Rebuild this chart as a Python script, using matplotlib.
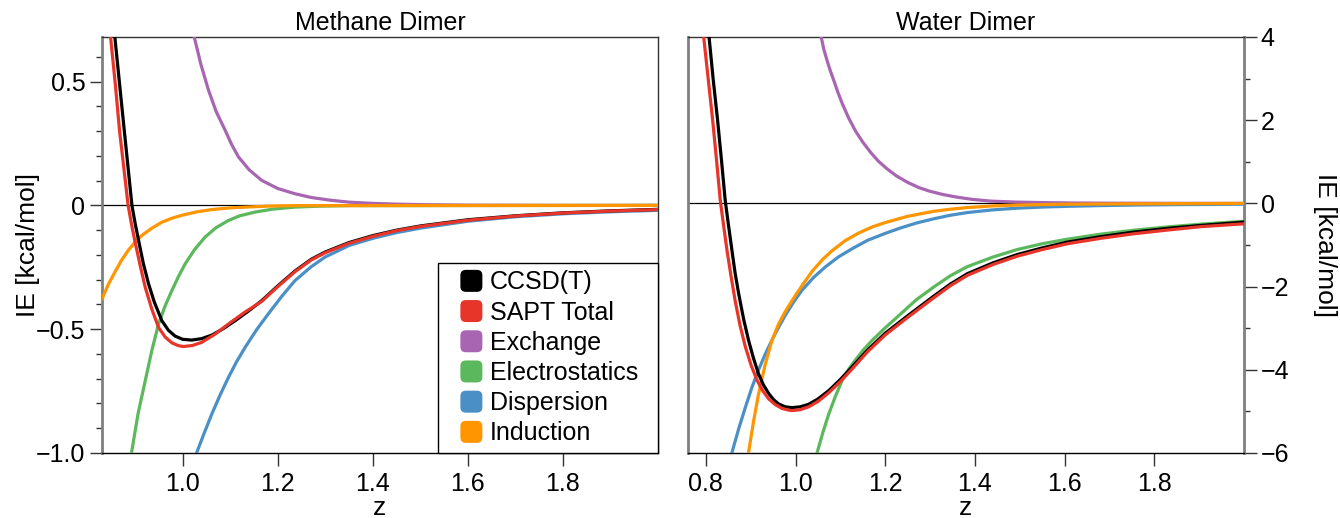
import numpy as np
import matplotlib
matplotlib.use("Agg")
import matplotlib.pyplot as plt
import matplotlib.patches as mpatches
from matplotlib.legend_handler import HandlerPatch
from matplotlib.ticker import MultipleLocator

plt.rcParams['font.family'] = ['Liberation Sans', 'DejaVu Sans']

#-----
# Methane dimer curves (z, IE in kcal/mol)
ch4_ccsd_z = [0.845, 0.857, 0.867, 0.877, 0.885, 0.893, 0.900, 0.907, 0.917, 0.928, 0.94, 0.956, 0.97, 0.984, 1.0, 1.019, 1.04, 1.061, 1.085, 1.11, 1.14, 1.166, 1.2, 1.236, 1.27, 1.3, 1.35, 1.4, 1.45, 1.5, 1.6, 1.7, 1.8, 1.9, 2.0]
ch4_ccsd = [0.95, 0.68, 0.49, 0.30, 0.15, 0.0, -0.075, -0.142, -0.235, -0.317, -0.39, -0.466, -0.505, -0.528, -0.541, -0.544, -0.538, -0.524, -0.498, -0.466, -0.424, -0.385, -0.325, -0.265, -0.218, -0.188, -0.150, -0.122, -0.100, -0.083, -0.058, -0.042, -0.030, -0.022, -0.016]
ch4_sapt_z = [0.838, 0.848, 0.858, 0.867, 0.876, 0.885, 0.892, 0.899, 0.91, 0.921, 0.935, 0.949, 0.963, 0.977, 0.99, 1.001, 1.02, 1.04, 1.068, 1.096, 1.13, 1.166, 1.2, 1.236, 1.27, 1.3, 1.35, 1.4, 1.45, 1.5, 1.6, 1.7, 1.8, 1.9, 2.0]
ch4_sapt = [0.95, 0.68, 0.49, 0.30, 0.15, 0.0, -0.075, -0.142, -0.24, -0.331, -0.42, -0.493, -0.532, -0.555, -0.566, -0.570, -0.566, -0.553, -0.520, -0.479, -0.432, -0.388, -0.328, -0.268, -0.221, -0.191, -0.153, -0.125, -0.102, -0.085, -0.060, -0.043, -0.031, -0.023, -0.017]
ch4_exch_z = [1.015, 1.024, 1.038, 1.054, 1.07, 1.089, 1.103, 1.117, 1.14, 1.166, 1.2, 1.236, 1.27, 1.31, 1.35, 1.4, 1.45, 1.5, 1.6, 1.8, 2.0]
ch4_exch = [0.85, 0.681, 0.57, 0.466, 0.38, 0.304, 0.245, 0.196, 0.143, 0.101, 0.068, 0.047, 0.032, 0.021, 0.013, 0.008, 0.005, 0.003, 0.001, 0.0, 0.0]
ch4_elst_z = [0.885, 0.892, 0.906, 0.921, 0.935, 0.949, 0.963, 0.977, 0.991, 1.005, 1.025, 1.047, 1.07, 1.096, 1.12, 1.152, 1.19, 1.236, 1.29, 1.35, 2.0]
ch4_elst = [-1.2, -1.0, -0.84, -0.708, -0.585, -0.479, -0.405, -0.344, -0.287, -0.236, -0.178, -0.128, -0.090, -0.061, -0.042, -0.027, -0.015, -0.007, -0.003, -0.001, 0.0]
ch4_disp_z = [1.02, 1.029, 1.045, 1.061, 1.078, 1.096, 1.113, 1.131, 1.155, 1.18, 1.208, 1.236, 1.27, 1.3, 1.35, 1.4, 1.45, 1.5, 1.6, 1.7, 1.8, 1.9, 2.0]
ch4_disp = [-1.05, -1.0, -0.92, -0.843, -0.768, -0.695, -0.632, -0.574, -0.503, -0.438, -0.368, -0.304, -0.248, -0.208, -0.162, -0.133, -0.110, -0.092, -0.064, -0.046, -0.034, -0.026, -0.020]
ch4_ind_z = [0.83, 0.843, 0.857, 0.871, 0.885, 0.9, 0.914, 0.935, 0.956, 0.977, 0.998, 1.03, 1.061, 1.1, 1.131, 1.18, 1.236, 2.0]
ch4_ind = [-0.378, -0.32, -0.27, -0.222, -0.182, -0.148, -0.121, -0.092, -0.068, -0.052, -0.040, -0.026, -0.017, -0.010, -0.007, -0.003, -0.001, 0.0]

# Water dimer curves
h2o_ccsd_z = [0.80, 0.807, 0.816, 0.826, 0.835, 0.843, 0.85, 0.858, 0.865, 0.873, 0.884, 0.895, 0.906, 0.917, 0.928, 0.94, 0.951, 0.962, 0.977, 0.992, 1.01, 1.029, 1.05, 1.074, 1.1, 1.126, 1.16, 1.2, 1.25, 1.308, 1.345, 1.383, 1.44, 1.494, 1.55, 1.606, 1.68, 1.754, 1.83, 1.903, 2.0]
h2o_ccsd = [4.8, 4.0, 3.0, 2.0, 1.0, 0.07, -0.5, -1.13, -1.67, -2.17, -2.78, -3.29, -3.72, -4.09, -4.36, -4.57, -4.72, -4.82, -4.89, -4.91, -4.89, -4.83, -4.70, -4.50, -4.23, -3.93, -3.53, -3.12, -2.70, -2.23, -1.94, -1.69, -1.43, -1.23, -1.07, -0.93, -0.80, -0.69, -0.60, -0.53, -0.45]
h2o_sapt_z = [0.79, 0.795, 0.805, 0.815, 0.824, 0.832, 0.839, 0.847, 0.856, 0.865, 0.876, 0.888, 0.901, 0.914, 0.927, 0.94, 0.955, 0.97, 0.985, 0.992, 1.01, 1.029, 1.05, 1.074, 1.1, 1.126, 1.16, 1.2, 1.25, 1.308, 1.345, 1.383, 1.44, 1.494, 1.55, 1.606, 1.68, 1.754, 1.83, 1.903, 2.0]
h2o_sapt = [4.9, 4.0, 3.0, 2.0, 1.0, 0.07, -0.5, -1.13, -1.75, -2.33, -2.93, -3.45, -3.90, -4.25, -4.51, -4.70, -4.84, -4.93, -4.97, -4.98, -4.96, -4.89, -4.76, -4.55, -4.28, -3.98, -3.57, -3.16, -2.74, -2.27, -1.98, -1.73, -1.47, -1.27, -1.11, -0.97, -0.84, -0.73, -0.64, -0.56, -0.49]
h2o_exch_z = [1.05, 1.057, 1.063, 1.07, 1.077, 1.085, 1.094, 1.104, 1.118, 1.133, 1.15, 1.167, 1.185, 1.204, 1.225, 1.249, 1.275, 1.3, 1.33, 1.36, 1.395, 1.435, 1.49, 1.546, 1.62, 1.7, 1.85, 2.0]
h2o_exch = [4.6, 4.0, 3.7, 3.44, 3.2, 2.96, 2.68, 2.40, 2.06, 1.75, 1.47, 1.23, 1.01, 0.83, 0.66, 0.51, 0.38, 0.29, 0.21, 0.15, 0.095, 0.055, 0.032, 0.02, 0.01, 0.005, 0.002, 0.0]
h2o_elst_z = [1.04, 1.048, 1.061, 1.074, 1.089, 1.104, 1.118, 1.133, 1.152, 1.171, 1.2, 1.237, 1.27, 1.308, 1.345, 1.383, 1.44, 1.494, 1.55, 1.606, 1.68, 1.754, 1.83, 1.903, 2.0]
h2o_elst = [-6.5, -5.99, -5.5, -5.06, -4.63, -4.25, -3.99, -3.77, -3.51, -3.29, -2.99, -2.63, -2.31, -2.01, -1.74, -1.52, -1.29, -1.11, -0.97, -0.86, -0.74, -0.645, -0.565, -0.50, -0.43]
h2o_disp_z = [0.85, 0.858, 0.873, 0.888, 0.902, 0.917, 0.932, 0.947, 0.962, 0.977, 0.995, 1.014, 1.04, 1.066, 1.095, 1.126, 1.16, 1.2, 1.234, 1.27, 1.308, 1.345, 1.383, 1.44, 1.494, 1.55, 1.606, 1.68, 1.754, 1.85, 2.0]
h2o_disp = [-6.3, -5.99, -5.42, -4.9, -4.44, -4.01, -3.63, -3.29, -2.98, -2.69, -2.38, -2.09, -1.78, -1.53, -1.29, -1.09, -0.89, -0.72, -0.59, -0.47, -0.37, -0.285, -0.22, -0.155, -0.115, -0.088, -0.07, -0.053, -0.04, -0.03, -0.02]
h2o_ind_z = [0.89, 0.895, 0.906, 0.917, 0.932, 0.947, 0.962, 0.977, 0.999, 1.018, 1.037, 1.06, 1.081, 1.11, 1.141, 1.17, 1.2, 1.25, 1.308, 1.345, 1.383, 1.44, 1.494, 1.6, 1.75, 2.0]
h2o_ind = [-6.4, -5.99, -5.25, -4.6, -3.88, -3.3, -2.9, -2.6, -2.22, -1.92, -1.63, -1.35, -1.14, -0.90, -0.71, -0.57, -0.46, -0.31, -0.19, -0.14, -0.10, -0.06, -0.04, -0.02, -0.01, 0.0]

labels = ['CCSD(T)', 'SAPT Total', 'Exchange', 'Electrostatics', 'Dispersion', 'Induction']
colors = ['#000000', '#e8352a', '#a866b2', '#5cb85c', '#4a90c6', '#ff9500']
#-----

FS = 18

class RoundSquare(HandlerPatch):
  def create_artists(self, legend, orig_handle, xdescent, ydescent, width, height, fontsize, trans):
    s = 0.88*fontsize
    x0 = -xdescent + width - s
    y0 = -ydescent + (height - s)/2.
    p = mpatches.FancyBboxPatch((x0, y0), s, s, boxstyle='round,pad=0,rounding_size=%f' % (0.25*s),
                                facecolor=orig_handle.get_facecolor(), edgecolor='none', transform=trans)
    return [p]

def style_axes(ax, side):
  gray = '#808080'
  for sp in ax.spines.values():
    sp.set_linewidth(1.0)
    sp.set_color('#333333')
  ax.spines['bottom'].set_color('black')
  ax.spines[side].set_color(gray)
  ax.spines[side].set_linewidth(2.0)
  if side == 'right':
    ax.spines['left'].set_color(gray)
    ax.spines['left'].set_linewidth(2.0)
  ax.tick_params(axis='x', which='major', direction='out', length=9, width=1, colors='#333333', labelcolor='black', labelsize=FS, pad=5, top=False)
  ax.tick_params(axis='y', which='major', direction='out', length=9, width=1, colors='#333333', labelcolor='black', labelsize=FS, pad=3)
  ax.tick_params(axis='y', which='minor', direction='out', length=4.5, width=1, colors='#333333')
  ax.tick_params(axis='x', which='minor', bottom=False, top=False)
  ax.axhline(0, color='black', lw=0.9, zorder=1)

fig = plt.figure(figsize=(13.4, 5.18), dpi=100)
ax1 = fig.add_axes([102/1340., 65/518., 556/1340., 416/518.])
ax2 = fig.add_axes([688/1340., 65/518., 556/1340., 416/518.])

ch4 = [(ch4_ccsd_z, ch4_ccsd), (ch4_sapt_z, ch4_sapt), (ch4_exch_z, ch4_exch),
       (ch4_elst_z, ch4_elst), (ch4_disp_z, ch4_disp), (ch4_ind_z, ch4_ind)]
h2o = [(h2o_ccsd_z, h2o_ccsd), (h2o_sapt_z, h2o_sapt), (h2o_exch_z, h2o_exch),
       (h2o_elst_z, h2o_elst), (h2o_disp_z, h2o_disp), (h2o_ind_z, h2o_ind)]

# draw order: components first, totals on top
order = [2, 3, 4, 5, 0, 1]
for ax, curves in [(ax1, ch4), (ax2, h2o)]:
  for i in order:
    z, e = curves[i]
    ax.plot(z, e, color=colors[i], lw=2.3, zorder=3 + (i in (0, 1)) + (i == 1),
            solid_capstyle='round', solid_joinstyle='round')

ax1.set_xlim(0.83, 2.0)
ax1.set_ylim(-1.0, 0.68)
ax1.set_xticks([1.0, 1.2, 1.4, 1.6, 1.8])
ax1.set_xticklabels(['1.0', '1.2', '1.4', '1.6', '1.8'])
ax1.set_yticks([-1.0, -0.5, 0, 0.5])
ax1.set_yticklabels(['\u22121.0', '\u22120.5', '0', '0.5'])
ax1.yaxis.set_minor_locator(MultipleLocator(0.1))
style_axes(ax1, 'left')
ax1.set_title('Methane Dimer', fontsize=FS, pad=5)
ax1.set_xlabel('z', fontsize=FS + 1, labelpad=0)
ax1.set_ylabel('IE [kcal/mol]', fontsize=FS + 1, va='center')
ax1.yaxis.set_label_coords(-0.133, 0.5)

ax2.set_xlim(0.76, 2.0)
ax2.set_ylim(-6, 4)
ax2.set_xticks([0.8, 1.0, 1.2, 1.4, 1.6, 1.8])
ax2.set_xticklabels(['0.8', '1.0', '1.2', '1.4', '1.6', '1.8'])
ax2.yaxis.tick_right()
ax2.yaxis.set_label_position('right')
ax2.set_yticks([-6, -4, -2, 0, 2, 4])
ax2.set_yticklabels(['\u22126', '\u22124', '\u22122', '0', '2', '4'])
ax2.yaxis.set_minor_locator(MultipleLocator(1))
style_axes(ax2, 'right')
ax2.tick_params(axis='y', which='both', left=False, right=True)
ax2.set_title('Water Dimer', fontsize=FS, pad=5)
ax2.set_xlabel('z', fontsize=FS + 1, labelpad=0)
ax2.set_ylabel('IE [kcal/mol]', fontsize=FS + 1, rotation=270, va='center')
ax2.yaxis.set_label_coords(1.146, 0.5)

handles = [mpatches.Patch(facecolor=c) for c in colors]
leg = ax1.legend(handles, labels, loc='lower right', bbox_to_anchor=(1 - 0.395, 0, 0.395, 0.5),
                 mode='expand', borderaxespad=0, fontsize=FS, frameon=True, fancybox=False,
                 framealpha=1, edgecolor='black', borderpad=0.3, handlelength=1.46,
                 handleheight=0.88, handletextpad=0.3, labelspacing=0.248,
                 handler_map={mpatches.Patch: RoundSquare()})
leg.get_frame().set_linewidth(1.0)
leg.set_zorder(10)

fig.savefig('out.png', dpi=100)
